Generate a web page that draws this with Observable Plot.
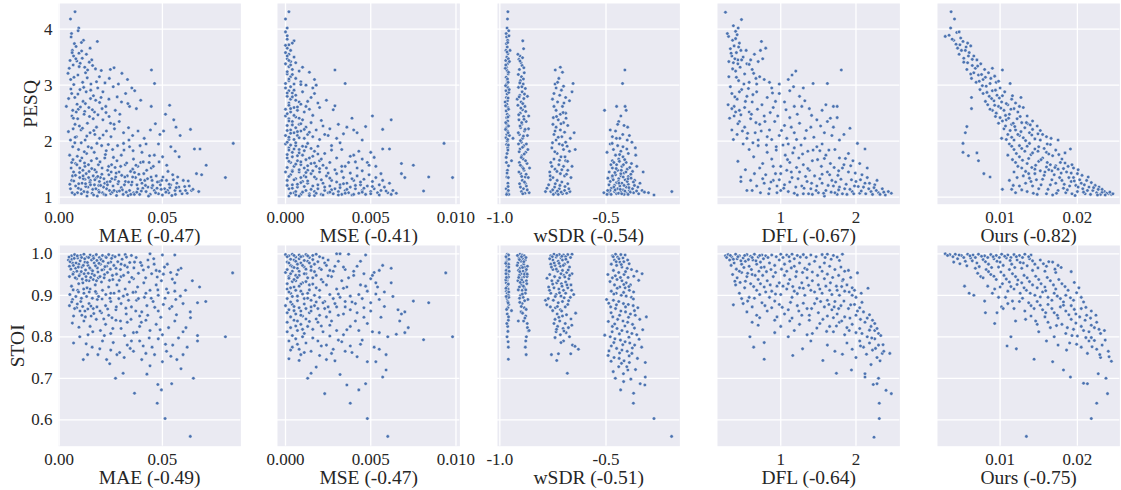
<!DOCTYPE html>
<html><head><meta charset="utf-8">
<script src="https://cdn.jsdelivr.net/npm/d3@7"></script>
<script src="https://cdn.jsdelivr.net/npm/@observablehq/plot@0.6"></script>
<style>
body{margin:0;background:#fff;}
#chart{position:relative;width:1121px;height:490px;overflow:hidden;background:#fff;}
</style></head><body><div id="chart"></div>
<script>
// ---------- data: [metric value, quality score] per utterance ----------
const maePesq = [[.0077,4.31],[.0055,4.18],[.0095,4.02],[.0092,3.97],[.0060,3.92],[.0058,3.86],[.0118,3.80],[.0185,3.78],[.0074,3.74],[.0108,3.76],[.0082,3.69],[.0064,3.62],[.0150,3.66],[.0096,3.57],[.0132,3.55],[.0070,3.52],[.0112,3.48],[.0158,3.45],[.0053,3.44],
[.0049,3.30],[.0068,3.36],[.0086,3.43],[.0102,3.39],[.0124,3.32],[.0146,3.41],[.0162,3.35],[.0176,3.29],[.0204,3.26],[.0248,3.28],[.0266,3.31],[.0304,3.21],[.0331,3.10],[.0447,3.27],[.0056,3.10],[.0091,3.18],[.0114,3.05],[.0136,3.13],[.0154,3.02],[.0181,3.06],[.0222,3.04],[.0287,3.02],[.0352,2.95],[.0366,2.90],[.0462,3.03],[.0071,3.01],[.0128,3.22],[.0195,3.15],[.0243,3.12],
[.0035,2.62],[.0061,2.85],[.0076,2.78],[.0087,2.66],[.0101,2.92],[.0116,2.71],[.0131,2.88],[.0144,2.60],[.0166,2.81],[.0187,2.95],[.0196,2.69],[.0212,2.88],[.0226,2.62],[.0241,2.75],[.0262,2.97],[.0281,2.79],[.0302,2.70],[.0322,2.85],[.0341,2.62],[.0374,2.58],[.0395,2.73],[.0446,2.62],[.0535,2.64],[.0272,2.55],[.0171,2.52],[.0066,2.55],[.0093,2.57],[.0124,2.53],[.0152,2.76],[.0208,2.58],[.0333,2.67],[.0046,2.76],
[.0045,2.17],[.0062,2.45],[.0077,2.30],[.0090,2.40],[.0106,2.20],[.0121,2.48],[.0137,2.32],[.0150,2.15],[.0165,2.40],[.0181,2.25],[.0196,2.05],[.0212,2.38],[.0229,2.18],[.0251,2.08],[.0266,2.30],[.0291,2.35],[.0312,2.15],[.0336,2.24],[.0356,2.10],[.0382,2.18],[.0412,2.05],[.0442,2.20],[.0466,2.31],[.0515,2.48],[.0555,2.38],[.0506,2.18],[.0566,2.25],[.0636,2.21],[.0586,2.10],[.0055,2.02],[.0084,2.08],[.0126,2.02],[.0098,2.27],[.0173,2.12],[.0242,2.44],[.0488,2.12],[.0068,2.22],
[.0051,1.75],[.0066,1.90],[.0080,1.60],[.0094,1.85],[.0110,1.70],[.0125,1.55],[.0141,1.90],[.0156,1.65],[.0170,1.80],[.0190,1.58],[.0206,1.92],[.0221,1.70],[.0240,1.55],[.0259,1.85],[.0280,1.65],[.0301,1.75],[.0320,1.58],[.0341,1.90],[.0360,1.68],[.0381,1.55],[.0401,1.80],[.0421,1.95],[.0436,1.62],[.0461,1.75],[.0481,1.95],[.0501,1.72],[.0521,1.57],[.0541,1.90],[.0581,1.72],[.0655,1.86],[.0682,1.86],[.0843,1.96],[.0712,1.57],[.0446,1.52],[.0356,1.50],[.0061,1.62],[.0100,1.52],[.0133,1.78],[.0182,1.69],[.0228,1.83],[.0271,1.53],[.0312,1.96],[.0395,1.62],[.0562,1.82],[.0076,1.97],
[.0055,1.15],[.0061,1.30],[.0070,1.45],[.0080,1.20],[.0089,1.08],[.0100,1.35],[.0111,1.25],[.0120,1.10],[.0131,1.42],[.0140,1.18],[.0151,1.30],[.0160,1.07],[.0171,1.22],[.0180,1.45],[.0191,1.12],[.0200,1.35],[.0210,1.08],[.0221,1.25],[.0230,1.15],[.0241,1.40],[.0250,1.06],[.0261,1.20],[.0270,1.32],[.0281,1.10],[.0290,1.45],[.0301,1.17],[.0310,1.05],[.0321,1.28],[.0330,1.38],[.0341,1.12],[.0350,1.22],[.0361,1.08],[.0370,1.35],[.0381,1.15],[.0390,1.05],[.0401,1.25],[.0410,1.42],[.0421,1.10],[.0430,1.18],[.0441,1.05],[.0450,1.30],[.0461,1.12],[.0470,1.38],[.0481,1.06],[.0490,1.22],[.0500,1.04],[.0511,1.15],[.0520,1.30],[.0531,1.08],[.0540,1.22],[.0550,1.40],[.0561,1.12],[.0570,1.25],[.0580,1.18],[.0601,1.30],[.0620,1.07],[.0630,1.20],[.0641,1.12],[.0665,1.42],[.0676,1.10],[.0805,1.35],[.0690,1.40],[.0075,1.05],[.0115,1.48],[.0165,1.38],[.0195,1.28],[.0235,1.48],[.0135,1.02],[.0065,1.38],[.0095,1.24],[.0145,1.46],[.0185,1.02],[.0215,1.18],[.0255,1.33],[.0285,1.24],[.0325,1.09],[.0365,1.44],[.0405,1.16],[.0445,1.36],[.0485,1.28],[.0525,1.12],[.0595,1.06],[.0105,1.14],[.0125,1.32],
[.0043,3.21],[.0057,2.93],[.0063,3.58],[.0069,2.41],[.0072,3.14],[.0078,2.07],[.0081,3.47],[.0083,2.52],[.0088,1.73],[.0091,2.84],[.0097,3.33],[.0099,1.44],[.0103,2.61],[.0107,1.97],[.0109,3.61],[.0113,2.23],[.0117,1.33],[.0119,2.96],[.0122,1.81],[.0127,2.67],[.0129,1.19],[.0134,2.09],[.0138,3.27],[.0142,1.58],[.0147,2.44],[.0149,1.26],[.0153,2.91],[.0157,1.88],[.0161,2.56],[.0163,1.14],[.0168,2.19],[.0172,1.49],[.0177,2.73],[.0179,1.34],[.0183,1.96],[.0188,2.47],[.0192,1.21],[.0198,1.63],[.0203,2.78],[.0207,1.41],[.0213,2.11],[.0218,1.05],[.0224,1.76],[.0227,2.51],[.0233,1.27],[.0238,1.94],[.0244,1.12],[.0249,2.32],[.0254,1.58],[.0258,1.09],[.0263,1.71],[.0268,2.22],[.0274,1.36],[.0278,1.03],[.0283,1.92],[.0288,1.28],[.0294,2.48],[.0298,1.55],[.0306,1.13],[.0314,1.84],[.0318,1.36],[.0327,1.61],[.0334,1.03],[.0338,2.02],[.0346,1.46],[.0353,1.27],[.0358,1.83],[.0364,1.05],[.0372,1.57],[.0377,1.22],[.0386,1.41],[.0392,1.92],[.0398,1.11],[.0407,1.63],[.0415,1.30],[.0424,1.48],[.0433,1.02],[.0438,1.74],[.0449,1.17],[.0456,1.55],[.0467,1.08],[.0476,1.27],[.0484,1.63],[.0494,1.14],[.0503,1.36],[.0517,1.09],[.0527,1.46],[.0536,1.17],[.0546,1.03],[.0553,1.31],[.0563,1.05],[.0574,1.36],[.0586,1.11],[.0608,1.19],[.0625,1.29],[.0648,1.14],[.0052,1.23],[.0058,1.52],[.0063,1.08],[.0067,1.67],[.0071,1.29],[.0079,1.39],[.0086,1.58],[.0093,1.16],[.0102,1.65],[.0108,1.06],[.0116,1.38],[.0123,1.61],[.0128,1.24],[.0137,1.09],[.0143,1.35],[.0152,1.22],[.0158,1.51],[.0167,1.04],[.0173,1.31],[.0178,1.15],[.0187,1.37],[.0194,1.09],[.0201,1.21],[.0208,1.52],[.0217,1.33],[.0226,1.04],[.0234,1.22],[.0247,1.28],[.0252,1.45],[.0266,1.12],[.0276,1.43],[.0292,1.11],[.0303,1.39],[.0316,1.22],[.0336,1.27],[.0347,1.05],[.0356,1.36],[.0376,1.09],[.0394,1.31],[.0418,1.21],[.0428,1.33],[.0453,1.21],[.0474,1.16],[.0497,1.30],[.0533,1.23],[.0567,1.17],[.0612,1.12]];

const msePesq = [[.0002,4.31],[.0000,4.18],[.0001,4.02],[.0000,3.95],[.0001,3.88],[.0005,3.79],[.0001,3.82],[.0002,3.72],[.0004,3.75],[.0001,3.66],[.0003,3.62],[.0000,3.58],[.0002,3.55],[.0005,3.50],[.0001,3.47],[.0003,3.42],[.0000,3.38],[.0006,3.40],[.0002,3.33],[.0004,3.28],[.0008,3.25],[.0010,3.32],[.0014,3.23],[.0029,3.27],[.0035,3.03],[.0017,3.10],[.0001,3.20],[.0003,3.15],[.0006,3.12],[.0009,3.06],[.0002,3.08],[.0012,3.00],[.0005,3.02],[.0018,3.00],[.0016,2.95],
[.0000,2.95],[.0002,2.90],[.0004,2.86],[.0001,2.80],[.0003,2.75],[.0006,2.82],[.0008,2.70],[.0010,2.88],[.0012,2.62],[.0015,2.78],[.0019,2.68],[.0024,2.73],[.0029,2.63],[.0002,2.68],[.0005,2.60],[.0000,2.57],[.0007,2.55],[.0011,2.52],[.0014,2.57],[.0020,2.60],[.0003,2.52],[.0009,2.66],[.0017,2.85],
[.0051,2.45],[.0062,2.38],[.0047,2.26],[.0057,2.21],[.0000,2.45],[.0002,2.40],[.0004,2.35],[.0006,2.43],[.0008,2.30],[.0010,2.38],[.0012,2.25],[.0015,2.33],[.0018,2.20],[.0022,2.27],[.0026,2.22],[.0031,2.30],[.0036,2.25],[.0040,2.20],[.0001,2.28],[.0003,2.20],[.0005,2.15],[.0007,2.10],[.0009,2.18],[.0011,2.05],[.0013,2.12],[.0016,2.08],[.0020,2.03],[.0025,2.10],[.0030,2.05],[.0042,2.15],[.0045,2.02],[.0000,2.10],[.0002,2.03],
[.0093,1.96],[.0057,1.86],[.0061,1.86],[.0075,1.57],[.0000,1.95],[.0002,1.88],[.0004,1.80],[.0006,1.92],[.0008,1.85],[.0010,1.75],[.0012,1.90],[.0014,1.70],[.0017,1.82],[.0020,1.65],[.0023,1.78],[.0027,1.92],[.0030,1.70],[.0033,1.85],[.0037,1.62],[.0040,1.75],[.0045,1.68],[.0050,1.80],[.0053,1.55],[.0001,1.70],[.0003,1.62],[.0005,1.55],[.0007,1.65],[.0009,1.58],[.0011,1.52],[.0015,1.60],[.0018,1.55],[.0022,1.57],[.0026,1.62],[.0035,1.55],[.0042,1.52],[.0048,1.62],[.0068,1.60],
[.0098,1.35],[.0084,1.36],[.0081,1.11],[.0070,1.35],[.0068,1.42],[.0065,1.07],[.0000,1.45],[.0001,1.30],[.0002,1.15],[.0003,1.40],[.0004,1.22],[.0005,1.08],[.0006,1.33],[.0007,1.18],[.0008,1.45],[.0009,1.05],[.0010,1.28],[.0011,1.38],[.0012,1.12],[.0013,1.25],[.0014,1.06],[.0015,1.42],[.0016,1.20],[.0017,1.10],[.0018,1.33],[.0019,1.15],[.0020,1.45],[.0021,1.05],[.0022,1.25],[.0023,1.12],[.0024,1.38],[.0025,1.08],[.0026,1.20],[.0027,1.30],[.0028,1.06],[.0029,1.15],[.0030,1.42],[.0031,1.10],[.0032,1.22],[.0033,1.05],[.0034,1.35],[.0035,1.12],[.0036,1.25],[.0037,1.08],[.0038,1.18],[.0039,1.04],[.0040,1.30],[.0041,1.15],[.0042,1.38],[.0043,1.07],[.0044,1.22],[.0045,1.12],[.0046,1.32],[.0047,1.05],[.0048,1.20],[.0049,1.40],[.0050,1.10],[.0051,1.28],[.0052,1.15],[.0053,1.35],[.0054,1.08],[.0055,1.22],[.0056,1.12],[.0057,1.30],[.0058,1.18],[.0060,1.08],[.0061,1.25],[.0063,1.12],[.0002,1.02],[.0006,1.10],[.0009,1.26],[.0013,1.48],[.0017,1.03],[.0004,1.48],[.0008,1.02],[.0012,1.36],
[.0000,3.71],[.0001,3.52],[.0002,3.44],[.0003,3.36],[.0001,3.24],[.0004,3.19],[.0002,3.11],[.0000,3.03],[.0003,2.97],[.0005,2.91],[.0001,2.86],[.0004,2.79],[.0006,2.73],[.0002,2.64],[.0007,2.61],[.0003,2.58],[.0001,2.49],[.0005,2.46],[.0008,2.41],[.0002,2.36],[.0004,2.29],[.0006,2.24],[.0009,2.31],[.0001,2.19],[.0003,2.14],[.0007,2.17],[.0011,2.21],[.0002,2.07],[.0005,2.03],[.0008,2.06],[.0001,1.98],[.0003,1.93],[.0006,1.97],[.0010,1.91],[.0013,1.96],[.0002,1.84],[.0005,1.86],[.0008,1.79],[.0011,1.83],[.0015,1.87],[.0001,1.76],[.0004,1.72],[.0007,1.74],[.0012,1.67],[.0016,1.73],[.0019,1.77],[.0002,1.64],[.0006,1.59],[.0009,1.63],[.0013,1.56],[.0017,1.61],[.0021,1.68],[.0024,1.52],[.0001,1.53],[.0004,1.46],[.0008,1.49],[.0012,1.44],[.0016,1.47],[.0020,1.51],[.0025,1.43],[.0029,1.49],[.0033,1.46],[.0002,1.37],[.0005,1.31],[.0009,1.35],[.0013,1.29],[.0017,1.36],[.0021,1.31],[.0026,1.34],[.0030,1.27],[.0034,1.24],[.0039,1.33],[.0044,1.27],[.0001,1.21],[.0004,1.16],[.0007,1.23],[.0011,1.19],[.0015,1.14],[.0019,1.22],[.0023,1.18],[.0027,1.13],[.0032,1.17],[.0036,1.14],[.0041,1.21],[.0046,1.16],[.0051,1.19],[.0003,1.07],[.0006,1.04],[.0010,1.09],[.0014,1.03],[.0018,1.07],[.0022,1.04],[.0026,1.09],[.0031,1.04],[.0035,1.07],[.0040,1.05],[.0045,1.09],[.0050,1.06],[.0055,1.04],[.0059,1.11],[.0062,1.05],[.0009,3.01],[.0013,2.71],[.0016,2.46],[.0021,2.37],[.0014,2.16],[.0019,1.91],[.0023,2.12],[.0027,1.84],[.0032,1.97],[.0038,1.73],[.0043,1.82],[.0049,1.57],[.0039,2.41],[.0028,2.56],[.0034,2.13],[.0041,1.63],[.0052,1.71],[.0056,1.42],[.0045,1.47],[.0038,1.43],[.0033,1.55]];

const wsdrPesq = [[-0.962,4.31],[-0.964,4.18],[-0.966,4.02],[-0.970,3.92],[-0.968,3.86],[-0.963,3.80],[-0.969,3.74],[-0.965,3.68],[-0.971,3.62],[-0.962,3.56],[-0.967,3.50],[-0.972,3.44],[-0.964,3.38],[-0.969,3.32],[-0.966,3.26],[-0.961,3.20],[-0.970,3.14],[-0.965,3.08],[-0.968,3.02],[-0.963,2.96],[-0.971,2.90],[-0.966,2.84],[-0.969,2.78],[-0.964,2.72],[-0.967,2.66],[-0.962,2.60],[-0.970,2.54],[-0.965,2.48],[-0.968,2.42],[-0.963,2.36],[-0.966,2.30],[-0.969,2.24],[-0.964,2.18],[-0.967,2.12],[-0.971,2.06],[-0.965,2.00],[-0.968,1.94],[-0.963,1.88],[-0.966,1.78],[-0.969,1.62],[-0.964,1.48],[-0.967,1.36],[-0.962,1.25],[-0.970,1.15],[-0.965,1.08],[-0.960,1.12],[-0.957,3.88],[-0.952,3.62],[-0.958,2.45],[-0.955,2.10],[-0.945,1.65],[-0.975,2.70],[-0.974,3.30],[-0.938,2.05],[-0.960,1.35],[-0.958,1.05],
[-0.958,3.97],[-0.963,3.76],[-0.966,3.59],[-0.960,3.47],[-0.972,3.36],[-0.959,3.23],[-0.964,3.11],[-0.961,3.05],[-0.973,2.99],[-0.958,2.87],[-0.961,2.77],[-0.973,2.63],[-0.959,2.57],[-0.962,2.43],[-0.972,2.33],[-0.959,2.27],[-0.961,2.15],[-0.963,2.03],[-0.960,1.93],[-0.962,1.84],[-0.970,1.71],[-0.959,1.56],[-0.966,1.43],[-0.961,1.19],[-0.968,1.05],[-0.956,2.92],[-0.955,3.42],[-0.973,2.21],
[-0.892,3.79],[-0.888,3.65],[-0.905,3.52],[-0.910,3.46],[-0.900,3.40],[-0.895,3.35],[-0.908,3.28],[-0.885,3.22],[-0.898,3.15],[-0.903,3.08],[-0.890,3.02],[-0.912,2.96],[-0.880,2.94],[-0.895,2.88],[-0.906,2.82],[-0.887,2.76],[-0.900,2.70],[-0.915,2.64],[-0.882,2.62],[-0.893,2.56],[-0.904,2.50],[-0.888,2.44],[-0.910,2.38],[-0.876,2.35],[-0.897,2.30],[-0.902,2.24],[-0.884,2.18],[-0.908,2.12],[-0.870,2.10],[-0.893,2.05],[-0.899,1.98],[-0.886,1.92],[-0.905,1.86],[-0.878,1.80],[-0.896,1.74],[-0.890,1.68],[-0.908,1.62],[-0.872,1.60],[-0.895,1.54],[-0.886,1.48],[-0.902,1.42],[-0.880,1.36],[-0.894,1.30],[-0.907,1.24],[-0.875,1.20],[-0.889,1.15],[-0.898,1.10],[-0.882,1.07],[-0.862,1.08],[-0.918,2.75],[-0.865,2.22],[-0.860,1.52],[-0.912,1.95],[-0.870,2.80],[-0.880,1.25],
[-0.915,3.55],[-0.893,3.49],[-0.905,3.43],[-0.887,3.31],[-0.913,3.19],[-0.889,3.11],[-0.906,3.04],[-0.896,2.97],[-0.884,2.84],[-0.909,2.79],[-0.892,2.67],[-0.901,2.59],[-0.878,2.53],[-0.911,2.47],[-0.886,2.39],[-0.897,2.33],[-0.905,2.27],[-0.881,2.21],[-0.913,2.15],[-0.889,2.09],[-0.903,2.01],[-0.875,1.95],[-0.893,1.89],[-0.909,1.81],[-0.885,1.77],[-0.899,1.71],[-0.879,1.65],[-0.903,1.57],[-0.889,1.51],[-0.910,1.45],[-0.876,1.41],[-0.897,1.37],[-0.884,1.27],[-0.903,1.18],[-0.871,1.13],[-0.892,1.06],[-0.866,1.35],[-0.868,1.85],[-0.864,2.45],
[-0.715,3.32],[-0.739,3.27],[-0.705,3.23],[-0.722,3.12],[-0.740,3.02],[-0.655,3.03],[-0.735,2.95],[-0.700,2.98],[-0.745,2.85],[-0.718,2.82],[-0.690,2.78],[-0.660,2.88],[-0.672,2.72],[-0.728,2.70],[-0.745,2.62],[-0.705,2.62],[-0.735,2.55],[-0.715,2.48],[-0.690,2.50],[-0.748,2.42],[-0.725,2.38],[-0.700,2.33],[-0.680,2.28],[-0.735,2.25],[-0.715,2.20],[-0.695,2.16],[-0.745,2.12],[-0.708,2.08],[-0.650,2.15],[-0.735,2.02],[-0.690,1.98],[-0.720,1.95],[-0.755,1.88],[-0.700,1.85],[-0.672,1.82],[-0.730,1.78],[-0.712,1.72],[-0.745,1.68],[-0.690,1.65],[-0.760,1.62],[-0.722,1.58],[-0.700,1.55],[-0.740,1.50],[-0.680,1.48],[-0.765,1.45],[-0.715,1.42],[-0.695,1.38],[-0.750,1.35],[-0.730,1.30],[-0.708,1.27],[-0.680,1.24],[-0.770,1.22],[-0.742,1.18],[-0.720,1.15],[-0.695,1.12],[-0.760,1.10],[-0.735,1.08],[-0.705,1.06],[-0.785,1.10],[-0.670,1.10],[-0.660,1.55],[-0.645,1.85],[-0.750,2.30],[-0.725,1.05],[-0.665,1.35],
[-0.728,3.05],[-0.710,2.91],[-0.752,2.75],[-0.698,2.68],[-0.733,2.44],[-0.712,2.31],[-0.688,2.41],[-0.740,2.18],[-0.725,2.07],[-0.752,1.97],[-0.705,1.93],[-0.683,1.91],[-0.741,1.81],[-0.719,1.66],[-0.693,1.72],[-0.755,1.55],[-0.731,1.46],[-0.708,1.49],[-0.686,1.41],[-0.762,1.31],[-0.739,1.24],[-0.717,1.21],[-0.693,1.19],[-0.675,1.15],[-0.778,1.16],[-0.751,1.13],[-0.729,1.11],[-0.711,1.09],[-0.685,1.07],[-0.748,1.05],[-0.763,1.38],[-0.681,1.64],[-0.668,2.05],[-0.702,2.51],
[-0.411,3.27],[-0.422,3.03],[-0.507,2.55],[-0.450,2.62],[-0.410,2.62],[-0.430,2.45],[-0.405,2.55],[-0.440,2.35],[-0.415,2.28],[-0.398,2.25],[-0.480,2.20],[-0.455,2.18],[-0.470,2.08],[-0.435,2.05],[-0.400,2.02],[-0.378,1.98],[-0.480,1.95],[-0.445,1.92],[-0.420,1.90],[-0.362,1.88],[-0.465,1.85],[-0.430,1.82],[-0.495,1.80],[-0.395,1.78],[-0.455,1.75],[-0.420,1.72],[-0.360,1.75],[-0.440,1.68],[-0.470,1.65],[-0.405,1.62],[-0.380,1.60],[-0.450,1.58],[-0.425,1.55],[-0.470,1.52],[-0.400,1.50],[-0.445,1.48],[-0.375,1.46],[-0.485,1.45],[-0.415,1.43],[-0.455,1.40],[-0.430,1.38],[-0.395,1.37],[-0.470,1.35],[-0.440,1.33],[-0.410,1.31],[-0.365,1.30],[-0.480,1.28],[-0.450,1.26],[-0.425,1.25],[-0.395,1.23],[-0.460,1.21],[-0.435,1.20],[-0.405,1.18],[-0.350,1.18],[-0.475,1.16],[-0.445,1.15],[-0.420,1.13],[-0.390,1.12],[-0.460,1.10],[-0.430,1.09],[-0.405,1.08],[-0.370,1.08],[-0.485,1.07],[-0.450,1.06],[-0.415,1.05],[-0.330,1.12],[-0.300,1.08],[-0.274,1.04],[-0.190,1.10],[-0.510,1.08],[-0.495,1.05],[-0.340,1.25],[-0.325,1.45],[-0.355,1.55],[-0.445,2.30],[-0.390,2.10],[-0.470,1.38],[-0.430,1.42],[-0.400,1.28],[-0.375,1.15],
[-0.463,1.62],[-0.437,1.64],[-0.412,1.67],[-0.388,1.53],[-0.477,1.58],[-0.452,1.51],[-0.428,1.48],[-0.406,1.45],[-0.383,1.41],[-0.491,1.34],[-0.466,1.31],[-0.441,1.28],[-0.419,1.36],[-0.396,1.33],[-0.371,1.27],[-0.486,1.22],[-0.463,1.18],[-0.439,1.25],[-0.415,1.21],[-0.392,1.17],[-0.366,1.21],[-0.481,1.12],[-0.457,1.13],[-0.433,1.14],[-0.411,1.11],[-0.386,1.09],[-0.356,1.11],[-0.476,1.05],[-0.441,1.07],[-0.426,1.06],[-0.396,1.05],[-0.346,1.06],[-0.319,1.09],[-0.492,1.12],[-0.458,1.44],[-0.418,1.58],[-0.382,1.34],[-0.471,1.96],[-0.436,1.76],[-0.402,1.86],[-0.451,2.05],[-0.421,2.12]];

const dflPesq = [[0.265,4.30],[0.478,4.17],[0.434,4.02],[0.306,3.87],[0.743,3.78],[0.80,3.66],[0.40,3.96],[0.42,3.90],[0.36,3.80],[0.45,3.75],[0.38,3.70],[0.33,3.65],[0.47,3.62],[0.41,3.58],[0.35,3.52],[0.50,3.50],[0.43,3.45],[0.37,3.40],[0.60,3.45],[0.65,3.55],[0.70,3.42],[0.55,3.38],[0.46,3.32],[0.31,3.15],[0.40,3.25],[0.52,3.20],[0.62,3.28],[0.72,3.15],[0.78,3.10],[0.85,3.05],[0.68,3.02],[0.58,3.05],[0.44,3.08],[1.805,3.27],[1.62,3.03],[1.43,3.03],[1.20,3.25],[1.15,3.18],[1.10,3.10],[0.98,3.02],
[0.35,2.85],[0.42,2.75],[0.48,2.92],[0.38,2.62],[0.30,2.65],[0.55,2.80],[0.62,2.70],[0.45,2.55],[0.52,2.60],[0.68,2.88],[0.75,2.65],[0.82,2.78],[0.90,2.60],[0.98,2.85],[1.05,2.70],[1.12,2.90],[1.18,2.62],[1.25,2.80],[1.32,2.72],[1.38,2.58],[1.30,2.95],[1.60,2.65],[1.70,2.62],[1.75,2.62],[1.55,2.55],[0.88,2.95],[0.58,2.52],[0.40,2.52],
[0.38,2.45],[0.45,2.35],[0.52,2.25],[0.60,2.40],[0.66,2.15],[0.72,2.30],[0.78,2.45],[0.85,2.20],[0.92,2.35],[0.98,2.10],[1.05,2.28],[1.12,2.42],[1.18,2.15],[1.25,2.32],[1.32,2.05],[1.40,2.25],[1.48,2.38],[1.62,2.35],[1.70,2.25],[1.75,2.42],[1.68,2.10],[1.92,2.23],[1.58,2.15],[0.55,2.05],[0.70,2.02],[0.42,2.12],[0.35,2.20],[0.96,2.45],[1.08,2.05],[1.22,2.48],[1.78,2.02],[0.82,2.08],
[0.43,1.64],[0.50,1.95],[0.58,1.85],[0.64,1.72],[0.70,1.92],[0.76,1.60],[0.82,1.80],[0.88,1.68],[0.94,1.90],[1.00,1.55],[1.06,1.75],[1.12,1.62],[1.18,1.88],[1.24,1.70],[1.30,1.58],[1.36,1.82],[1.42,1.65],[1.48,1.90],[1.54,1.55],[1.60,1.75],[1.66,1.60],[1.72,1.85],[1.78,1.70],[1.84,1.58],[1.90,1.78],[1.96,1.65],[2.02,1.96],[2.12,1.86],[1.55,1.95],[0.72,1.52],[0.90,1.55],[1.10,1.95],[1.82,1.52],[2.05,1.60],[2.15,1.52],
[0.47,1.36],[0.47,1.28],[0.60,1.30],[0.73,1.08],[0.53,1.49],[0.68,1.20],[0.80,1.40],[0.85,1.15],[0.90,1.30],[0.95,1.08],[1.00,1.42],[1.05,1.22],[1.10,1.10],[1.15,1.35],[1.20,1.18],[1.25,1.45],[1.30,1.06],[1.35,1.28],[1.40,1.15],[1.45,1.38],[1.50,1.08],[1.55,1.25],[1.60,1.12],[1.65,1.40],[1.70,1.20],[1.75,1.05],[1.80,1.32],[1.85,1.15],[1.90,1.45],[1.95,1.10],[2.00,1.28],[2.05,1.07],[2.10,1.18],[2.15,1.35],[2.20,1.10],[2.25,1.22],[2.30,1.08],[2.35,1.15],[2.39,1.04],[2.47,1.07],[2.43,1.10],[2.28,1.30],[2.18,1.25],[1.00,1.12],[1.22,1.04],[1.48,1.20],[1.68,1.30],[1.72,1.08],[1.88,1.05],[1.62,1.45],[1.38,1.48],[1.08,1.48],[0.78,1.25],[0.95,1.20],[1.42,1.05],[1.58,1.02],[2.08,1.40],[1.98,1.20],[1.78,1.18],[1.28,1.20],[0.62,1.12],
[0.34,3.57],[0.39,3.47],[0.43,3.38],[0.36,3.29],[0.48,3.45],[0.41,3.14],[0.51,3.02],[0.33,2.97],[0.45,2.88],[0.39,2.79],[0.53,2.71],[0.35,2.58],[0.47,2.47],[0.32,2.41],[0.43,2.31],[0.49,2.18],[0.37,2.03],[0.58,3.37],[0.64,3.21],[0.57,2.94],[0.63,2.83],[0.69,2.57],[0.61,2.48],[0.67,2.33],[0.56,2.14],[0.63,1.97],[0.74,2.18],[0.79,2.35],[0.86,2.51],[0.93,2.71],[0.81,1.93],[0.88,2.03],[0.94,1.84],[1.01,2.19],[1.07,2.56],[1.14,2.25],[1.03,1.93],[1.09,1.67],[1.16,1.79],[1.21,2.03],[1.27,1.93],[1.34,2.19],[1.21,1.53],[1.29,1.77],[1.36,1.51],[1.43,1.84],[1.49,1.67],[1.44,2.07],[1.52,1.83],[1.58,1.69],[1.64,1.84],[1.71,1.53],[1.77,1.47],[1.86,1.69],[1.93,1.56],[1.99,1.43],[2.06,1.31],[0.98,1.31],[1.04,1.16],[1.12,1.27],[1.18,1.07],[1.23,1.33],[1.31,1.16],[1.37,1.06],[1.41,1.25],[1.47,1.12],[1.52,1.33],[1.57,1.07],[1.63,1.21],[1.67,1.09],[1.73,1.27],[1.77,1.13],[1.82,1.06],[1.87,1.23],[1.92,1.14],[1.97,1.06],[2.03,1.19],[2.07,1.11],[2.13,1.06],[2.17,1.15],[2.22,1.05],[2.27,1.12],[2.32,1.05],[2.37,1.09],[2.24,1.17],[2.12,1.25],[0.87,1.27],[0.93,1.42],[0.76,1.33],[0.84,1.06],[0.55,1.12],[0.65,1.42],[1.14,1.45],[1.33,1.37],[1.55,1.41],[1.76,1.39],[1.94,1.31],[0.29,3.92],[0.37,4.06],[0.40,3.83],[0.44,3.68],[0.31,3.42],[0.54,3.62],[0.73,3.62],[0.76,3.47],[0.67,3.12],[0.89,2.86],[1.17,2.97],[1.28,2.62],[1.41,2.46],[1.53,2.27],[1.66,2.41],[1.84,2.12]];

const oursPesq = [[.00366,4.31],[.0041,4.18],[.0036,4.02],[.0029,3.87],[.0034,3.89],[.0044,3.94],[.0047,3.95],[.0040,3.80],[.0048,3.72],[.0052,3.78],[.0058,3.75],[.0045,3.66],[.0050,3.62],[.0056,3.68],[.0062,3.70],[.0060,3.58],[.0066,3.52],[.0053,3.48],[.0070,3.45],[.0058,3.40],[.0064,3.35],[.0075,3.38],[.0068,3.30],[.0080,3.28],[.0062,3.20],[.0072,3.18],[.0085,3.22],[.0090,3.30],[.0103,3.27],[.0078,3.10],[.0088,3.12],[.0069,3.05],[.0095,3.05],[.0113,3.03],[.0082,2.98],
[.0074,2.92],[.0090,2.90],[.0100,2.95],[.0078,2.85],[.0086,2.80],[.0096,2.82],[.0106,2.88],[.0127,2.78],[.0063,2.78],[.0092,2.72],[.0102,2.70],[.0115,2.75],[.0084,2.65],[.0098,2.62],[.0110,2.65],[.0120,2.68],[.0063,2.58],[.0090,2.55],[.0105,2.55],[.0118,2.58],[.0130,2.60],[.0095,2.50],[.0112,2.48],
[.0100,2.42],[.0108,2.38],[.0122,2.40],[.0135,2.45],[.0098,2.32],[.0115,2.30],[.0128,2.33],[.0142,2.36],[.0057,2.26],[.0055,2.15],[.0105,2.22],[.0120,2.20],[.0132,2.24],[.0148,2.27],[.0110,2.12],[.0125,2.10],[.0138,2.15],[.0155,2.12],[.0102,2.05],[.0118,2.02],[.0130,2.06],[.0145,2.04],[.0160,2.08],[.0175,2.02],
[.0052,1.96],[.0052,1.80],[.0059,1.74],[.0070,1.79],[.0072,1.65],[.0191,1.86],[.0112,1.95],[.0125,1.92],[.0138,1.96],[.0150,1.90],[.0165,1.94],[.0118,1.85],[.0132,1.82],[.0145,1.86],[.0160,1.80],[.0172,1.84],[.0110,1.75],[.0125,1.72],[.0140,1.76],[.0155,1.70],[.0168,1.74],[.0180,1.68],[.0120,1.62],[.0135,1.60],[.0150,1.64],[.0165,1.58],[.0178,1.62],[.0188,1.55],[.0128,1.52],[.0145,1.50],[.0160,1.54],[.0175,1.50],[.0195,1.52],
[.0079,1.42],[.0087,1.36],[.0103,1.14],[.0244,1.05],[.0112,1.30],[.0118,1.45],[.0125,1.20],[.0130,1.38],[.0135,1.10],[.0140,1.28],[.0145,1.42],[.0150,1.15],[.0155,1.32],[.0160,1.06],[.0165,1.22],[.0170,1.40],[.0175,1.12],[.0180,1.30],[.0185,1.08],[.0190,1.20],[.0195,1.35],[.0200,1.10],[.0205,1.25],[.0210,1.06],[.0215,1.18],[.0220,1.12],[.0225,1.08],[.0230,1.05],[.0235,1.10],[.0212,1.30],[.0200,1.42],[.0186,1.45],[.0120,1.08],[.0148,1.05],[.0172,1.25],[.0158,1.45],[.0197,1.03],[.0228,1.18],[.0240,1.06],[.0142,1.20],[.0115,1.14],[.0168,1.04],[.0182,1.16],[.0207,1.15],[.0138,1.34],[.0192,1.28],
[.0038,3.82],[.0043,3.73],[.0049,3.84],[.0055,3.62],[.0047,3.55],[.0053,3.41],[.0059,3.52],[.0064,3.46],[.0057,3.28],[.0063,3.12],[.0071,3.34],[.0066,3.22],[.0076,3.19],[.0073,3.07],[.0081,3.14],[.0077,2.99],[.0087,3.03],[.0093,3.16],[.0083,2.87],[.0089,2.76],[.0094,2.91],[.0099,2.77],[.0103,2.81],[.0108,2.67],[.0081,2.71],[.0087,2.57],[.0093,2.64],[.0101,2.59],[.0107,2.46],[.0114,2.57],[.0123,2.52],[.0094,2.44],[.0103,2.36],[.0111,2.41],[.0117,2.32],[.0126,2.44],[.0136,2.31],[.0107,2.27],[.0113,2.19],[.0119,2.26],[.0127,2.17],[.0134,2.33],[.0142,2.21],[.0152,2.19],[.0108,2.03],[.0115,2.07],[.0123,2.12],[.0133,2.01],[.0141,2.11],[.0152,2.02],[.0166,2.05],[.0115,1.91],[.0121,1.78],[.0128,1.87],[.0135,1.91],[.0142,1.79],[.0149,1.82],[.0157,1.87],[.0163,1.77],[.0176,1.76],[.0184,1.79],[.0116,1.67],[.0129,1.66],[.0137,1.69],[.0146,1.57],[.0153,1.67],[.0161,1.62],[.0172,1.56],[.0184,1.61],[.0193,1.58],[.0201,1.49],[.0123,1.55],[.0133,1.46],[.0141,1.53],[.0152,1.47],[.0167,1.47],[.0182,1.51],[.0192,1.43],[.0206,1.39],[.0214,1.36],[.0218,1.26],[.0223,1.21],[.0227,1.14],[.0232,1.09],[.0238,1.07],[.0246,1.06],[.0117,1.21],[.0122,1.35],[.0128,1.13],[.0133,1.25],[.0137,1.42],[.0143,1.07],[.0147,1.31],[.0153,1.22],[.0157,1.39],[.0162,1.14],[.0167,1.31],[.0173,1.07],[.0177,1.35],[.0183,1.23],[.0187,1.13],[.0193,1.06],[.0198,1.21],[.0203,1.31],[.0208,1.09],[.0213,1.12],[.0217,1.05],[.0221,1.17],[.0226,1.04],[.0232,1.14],[.0236,1.04],[.0242,1.09],[.0163,1.49],[.0171,1.53],[.0179,1.43],[.0189,1.35],[.0196,1.29],[.0201,1.18],[.0209,1.22],[.0161,1.95],[.0149,2.13],[.0139,2.29],[.0125,2.62],[.0116,2.81],[.0098,3.07]];

const maeStoi = [[.0045,.985],[.0060,.995],[.0075,.998],[.0090,.990],[.0105,.996],[.0120,.999],[.0135,.992],[.0150,.997],[.0165,.994],[.0180,.998],[.0195,.991],[.0210,.996],[.0225,.993],[.0240,.998],[.0260,.995],[.0290,.997],[.0320,.998],[.0350,.996],[.0440,1.0],[.0500,.997],[.0560,.997],[.0050,.970],[.0065,.978],[.0080,.965],[.0095,.975],[.0110,.968],[.0125,.980],[.0140,.972],[.0155,.962],[.0170,.978],[.0185,.966],[.0200,.975],[.0215,.962],[.0230,.970],[.0250,.980],[.0275,.965],[.0300,.975],[.0330,.968],[.0365,.980],[.0400,.972],[.0430,.985],[.0460,.975],[.0470,.960],[.0510,.968],[.0540,.955],[.0590,.965],[.0570,.950],
[.0050,.945],[.0070,.955],[.0085,.940],[.0100,.950],[.0115,.930],[.0130,.945],[.0145,.935],[.0160,.952],[.0175,.925],[.0190,.942],[.0205,.932],[.0220,.950],[.0240,.920],[.0260,.938],[.0280,.925],[.0300,.945],[.0320,.915],[.0340,.932],[.0360,.940],[.0380,.920],[.0410,.930],[.0440,.912],[.0470,.925],[.0495,.935],[.0520,.915],[.0560,.910],[.0645,.935],[.0840,.954],[.0680,.920],[.0560,.930],[.0060,.922],[.0090,.912],[.0120,.905],[.0150,.915],[.0180,.905],[.0210,.912],[.0250,.905],[.0290,.910],[.0330,.902],[.0370,.908],[.0420,.905],[.0480,.900],[.0095,.928],[.0135,.918],[.0165,.938],
[.0050,.875],[.0065,.890],[.0085,.870],[.0105,.885],[.0125,.862],[.0145,.880],[.0165,.868],[.0185,.890],[.0205,.858],[.0225,.875],[.0250,.885],[.0275,.865],[.0300,.880],[.0325,.855],[.0350,.872],[.0375,.888],[.0400,.860],[.0425,.875],[.0455,.885],[.0480,.862],[.0505,.878],[.0535,.868],[.0565,.890],[.0600,.880],[.0710,.885],[.0670,.882],[.0635,.860],[.0636,.846],[.0070,.850],[.0110,.852],[.0155,.850],[.0240,.852],[.0390,.850],
[.0064,.833],[.0100,.800],[.0070,.785],[.0120,.838],[.0150,.825],[.0180,.842],[.0200,.815],[.0225,.830],[.0250,.808],[.0275,.840],[.0300,.820],[.0330,.835],[.0360,.810],[.0390,.825],[.0420,.840],[.0440,.815],[.0470,.830],[.0500,.805],[.0530,.822],[.0560,.838],[.0600,.812],[.0670,.803],[.0805,.800],[.0670,.790],[.0140,.805],[.0260,.820],
[.0117,.745],[.0138,.757],[.0188,.757],[.0230,.745],[.0315,.750],[.0280,.757],[.0273,.700],[.0310,.712],[.0600,.757],[.0590,.723],[.0650,.700],[.0545,.687],[.0160,.775],[.0210,.790],[.0250,.768],[.0330,.780],[.0360,.765],[.0390,.790],[.0420,.760],[.0450,.775],[.0480,.795],[.0500,.740],[.0520,.765],[.0550,.780],[.0570,.745],[.0440,.730],[.0400,.745],[.0350,.790],[.0620,.775],[.0245,.735],
[.0478,.685],[.0495,.672],[.0365,.664],[.0475,.640],[.0513,.603],[.0635,.560],[.0425,.710],
[.0048,.992],[.0053,.981],[.0057,.963],[.0062,.987],[.0067,.951],[.0069,.972],[.0073,.989],[.0078,.942],[.0082,.978],[.0086,.958],[.0088,.995],[.0093,.968],[.0097,.947],[.0102,.983],[.0107,.957],[.0109,.991],[.0112,.939],[.0117,.972],[.0121,.952],[.0124,.988],[.0128,.961],[.0132,.936],[.0137,.979],[.0141,.953],[.0143,.991],[.0148,.966],[.0153,.943],[.0157,.985],[.0162,.959],[.0167,.989],[.0171,.948],[.0176,.971],[.0181,.935],[.0183,.984],[.0188,.956],[.0193,.977],[.0198,.945],[.0203,.986],[.0207,.961],[.0213,.982],[.0218,.942],[.0222,.969],[.0228,.991],[.0234,.955],[.0238,.978],[.0244,.936],[.0248,.963],[.0254,.989],[.0258,.948],[.0265,.972],[.0271,.993],[.0278,.951],[.0284,.981],[.0291,.936],[.0297,.962],[.0305,.987],[.0312,.948],[.0318,.972],[.0326,.992],[.0334,.955],[.0342,.979],[.0352,.943],[.0362,.966],[.0373,.991],[.0384,.953],[.0394,.979],[.0408,.961],[.0419,.942],[.0432,.968],[.0448,.952],[.0458,.988],[.0475,.944],[.0486,.958],[.0505,.951],[.0524,.975],[.0548,.939],[.0577,.961],[.0052,.902],[.0061,.884],[.0068,.913],[.0075,.868],[.0081,.897],[.0088,.879],[.0094,.908],[.0101,.862],[.0108,.893],[.0114,.873],[.0119,.915],[.0127,.848],[.0133,.897],[.0139,.867],[.0146,.908],[.0154,.874],[.0161,.893],[.0168,.856],[.0176,.909],[.0183,.872],[.0191,.897],[.0198,.862],[.0208,.891],[.0216,.843],[.0226,.902],[.0235,.867],[.0246,.893],[.0256,.846],[.0266,.905],[.0277,.872],[.0289,.892],[.0297,.838],[.0311,.898],[.0323,.869],[.0336,.888],[.0348,.842],[.0358,.907],[.0371,.862],[.0384,.892],[.0398,.835],[.0413,.895],[.0429,.852],[.0446,.893],[.0463,.871],[.0478,.913],[.0492,.847],[.0513,.893],[.0528,.906],[.0546,.873],[.0568,.853],[.0587,.898],[.0612,.912],[.0096,.823],[.0131,.783],[.0163,.812],[.0197,.771],[.0219,.803],[.0262,.786],[.0293,.762],[.0317,.803],[.0344,.772],[.0376,.811],[.0407,.778],[.0436,.797],[.0462,.757],[.0489,.817],[.0515,.782],[.0541,.753],[.0578,.797],[.0614,.822]];

const mseStoi = [[.0000,.998],[.0002,.995],[.0004,.999],[.0006,.992],[.0008,.997],[.0010,.994],[.0012,.998],[.0014,.991],[.0016,.996],[.0018,.999],[.0020,.993],[.0030,1.0],[.0032,1.0],[.0037,.999],[.0047,.997],[.0022,.990],[.0025,.985],
[.0001,.980],[.0003,.972],[.0005,.985],[.0007,.965],[.0009,.978],[.0011,.968],[.0013,.982],[.0015,.960],[.0017,.975],[.0020,.965],[.0023,.978],[.0026,.960],[.0029,.970],[.0042,.970],[.0035,.962],[.0055,.960],[.0062,.965],[.0052,.955],[.0050,.940],[.0053,.930],[.0046,.952],[.0040,.948],
[.0000,.955],[.0002,.945],[.0004,.958],[.0006,.935],[.0008,.948],[.0010,.930],[.0012,.952],[.0014,.925],[.0016,.942],[.0018,.918],[.0021,.938],[.0024,.925],[.0027,.945],[.0030,.915],[.0033,.935],[.0036,.920],[.0062,.930],[.0054,.920],[.0058,.908],[.0048,.910],[.0044,.925],[.0094,.954],
[.0001,.915],[.0003,.905],[.0005,.920],[.0007,.898],[.0009,.910],[.0011,.892],[.0013,.905],[.0015,.888],[.0017,.900],[.0020,.895],[.0023,.885],[.0026,.902],[.0029,.880],[.0032,.895],[.0035,.885],[.0038,.898],[.0041,.880],[.0045,.892],[.0055,.890],[.0075,.886],[.0084,.882],
[.0000,.875],[.0002,.865],[.0004,.878],[.0006,.855],[.0008,.870],[.0010,.850],[.0012,.868],[.0014,.858],[.0017,.875],[.0020,.852],[.0023,.868],[.0026,.860],[.0030,.872],[.0034,.855],[.0038,.865],[.0042,.858],[.0046,.870],[.0050,.862],[.0056,.847],[.0070,.860],[.0066,.865],[.0068,.855],
[.0001,.835],[.0003,.822],[.0005,.840],[.0007,.815],[.0009,.830],[.0011,.808],[.0013,.825],[.0016,.818],[.0019,.835],[.0022,.812],[.0026,.828],[.0030,.815],[.0034,.805],[.0038,.825],[.0043,.815],[.0048,.832],[.0055,.810],[.0065,.806],[.0070,.810],[.0081,.793],[.0098,.800],[.0060,.800],[.0010,.800],
[.0002,.790],[.0004,.775],[.0006,.795],[.0008,.770],[.0012,.785],[.0015,.765],[.0019,.790],[.0024,.780],[.0028,.770],[.0033,.788],[.0038,.778],[.0044,.782],[.0052,.775],[.0055,.770],[.0059,.757],[.0059,.720],[.0057,.703],[.0053,.740],[.0048,.740],[.0047,.687],[.0043,.672],[.0036,.684],[.0038,.640],[.0048,.603],[.0060,.560],[.0023,.663],[.0032,.709],[.0015,.712],[.0013,.700],[.0008,.743],[.0002,.747],[.0020,.755],[.0027,.760],[.0035,.765],[.0042,.752],[.0024,.745],
[.0001,.993],[.0003,.987],[.0005,.996],[.0002,.978],[.0004,.969],[.0006,.982],[.0008,.988],[.0001,.962],[.0003,.952],[.0005,.967],[.0007,.975],[.0009,.993],[.0011,.984],[.0013,.995],[.0002,.941],[.0004,.933],[.0006,.948],[.0008,.958],[.0010,.972],[.0012,.963],[.0014,.978],[.0016,.986],[.0001,.928],[.0003,.918],[.0005,.938],[.0007,.943],[.0009,.927],[.0011,.952],[.0013,.942],[.0015,.969],[.0017,.957],[.0019,.981],[.0002,.908],[.0004,.897],[.0006,.912],[.0008,.922],[.0010,.903],[.0012,.933],[.0014,.913],[.0016,.927],[.0018,.948],[.0021,.962],[.0024,.972],[.0001,.892],[.0003,.884],[.0005,.873],[.0007,.887],[.0009,.862],[.0011,.879],[.0013,.893],[.0015,.872],[.0018,.884],[.0020,.912],[.0022,.932],[.0025,.947],[.0028,.958],[.0031,.982],[.0034,.968],[.0001,.858],[.0003,.848],[.0005,.863],[.0007,.838],[.0009,.852],[.0012,.843],[.0015,.862],[.0019,.868],[.0022,.882],[.0025,.872],[.0028,.892],[.0031,.903],[.0034,.917],[.0037,.942],[.0040,.958],[.0044,.982],[.0001,.812],[.0004,.803],[.0006,.826],[.0010,.818],[.0014,.837],[.0018,.843],[.0021,.826],[.0024,.848],[.0027,.838],[.0031,.852],[.0035,.872],[.0039,.884],[.0043,.902],[.0047,.922],[.0051,.948],[.0057,.972],[.0003,.768],[.0007,.782],[.0011,.762],[.0016,.797],[.0021,.778],[.0026,.802],[.0031,.792],[.0036,.817],[.0041,.838],[.0046,.847],[.0050,.882],[.0053,.903],[.0058,.873],[.0063,.897],[.0067,.838],[.0072,.822],[.0045,.792],[.0051,.812],[.0039,.762],[.0029,.742],[.0018,.727],[.0009,.757]];

const wsdrStoi = [[-0.965,.999],[-0.962,.995],[-0.968,.990],[-0.964,.985],[-0.970,.980],[-0.963,.975],[-0.967,.970],[-0.961,.965],[-0.969,.960],[-0.965,.955],[-0.962,.950],[-0.968,.945],[-0.964,.940],[-0.966,.935],[-0.970,.930],[-0.963,.925],[-0.967,.920],[-0.961,.915],[-0.969,.910],[-0.965,.905],[-0.960,.900],[-0.966,.892],[-0.963,.885],[-0.958,.878],[-0.962,.870],[-0.965,.855],[-0.960,.840],[-0.963,.825],[-0.966,.800],[-0.960,.775],[-0.961,.788],[-0.960,.746],[-0.945,.863],[-0.958,.895],[-0.970,.960],[-0.959,.975],[-0.967,.990],
[-0.959,.997],[-0.971,.993],[-0.957,.987],[-0.972,.977],[-0.958,.968],[-0.971,.952],[-0.959,.944],[-0.972,.937],[-0.960,.927],[-0.971,.917],[-0.958,.908],[-0.970,.897],[-0.961,.882],[-0.968,.866],[-0.959,.848],[-0.967,.832],[-0.962,.813],[-0.969,.943],[-0.956,.958],
[-0.905,.999],[-0.895,.997],[-0.885,.995],[-0.910,.990],[-0.892,.988],[-0.900,.982],[-0.880,.985],[-0.915,.978],[-0.888,.975],[-0.898,.970],[-0.905,.965],[-0.882,.968],[-0.912,.960],[-0.890,.958],[-0.900,.952],[-0.878,.955],[-0.908,.948],[-0.895,.942],[-0.885,.945],[-0.902,.938],[-0.915,.935],[-0.890,.932],[-0.875,.935],[-0.898,.925],[-0.908,.920],[-0.885,.918],[-0.895,.912],[-0.880,.905],[-0.902,.900],[-0.890,.895],[-0.868,.890],[-0.895,.880],[-0.885,.870],[-0.900,.860],[-0.878,.850],[-0.888,.838],[-0.913,.838],[-0.870,.822],[-0.866,.814],[-0.862,.815],[-0.875,.800],[-0.878,.790],[-0.880,.775],[-0.876,.757],[-0.870,.970],[-0.872,.945],
[-0.917,.996],[-0.898,.993],[-0.877,.991],[-0.908,.986],[-0.887,.981],[-0.918,.972],[-0.893,.967],[-0.875,.962],[-0.906,.957],[-0.884,.951],[-0.911,.943],[-0.897,.937],[-0.873,.928],[-0.904,.931],[-0.889,.922],[-0.913,.913],[-0.878,.913],[-0.894,.903],[-0.907,.893],[-0.883,.887],[-0.899,.873],[-0.876,.866],[-0.893,.857],[-0.882,.845],[-0.871,.832],[-0.906,.883],[-0.871,.951],
[-0.745,.999],[-0.720,.998],[-0.700,.997],[-0.680,.998],[-0.660,.999],[-0.760,.995],[-0.735,.992],[-0.712,.990],[-0.690,.993],[-0.750,.985],[-0.725,.982],[-0.705,.985],[-0.680,.980],[-0.760,.975],[-0.740,.972],[-0.715,.970],[-0.695,.975],[-0.672,.968],[-0.750,.962],[-0.728,.958],[-0.705,.960],[-0.685,.955],[-0.660,.952],[-0.765,.950],[-0.742,.945],[-0.718,.942],[-0.698,.948],[-0.675,.940],[-0.755,.935],[-0.732,.930],[-0.710,.928],[-0.690,.932],[-0.665,.925],[-0.770,.920],[-0.745,.918],[-0.722,.915],[-0.700,.912],[-0.680,.918],[-0.760,.905],[-0.735,.902],[-0.712,.898],[-0.690,.905],[-0.668,.895],[-0.785,.888],[-0.772,.892],[-0.748,.888],[-0.725,.882],[-0.705,.885],[-0.680,.878],[-0.762,.872],[-0.738,.870],[-0.715,.865],[-0.692,.872],[-0.643,.857],[-0.730,.855],[-0.705,.850],[-0.740,.842],[-0.718,.838],[-0.692,.832],[-0.728,.825],[-0.702,.820],[-0.735,.812],[-0.715,.805],[-0.688,.810],[-0.672,.800],[-0.740,.798],[-0.658,.780],[-0.646,.777],[-0.630,.770],[-0.682,.712],[-0.732,.743],[-0.757,.757],[-0.724,.759],[-0.666,.759],[-0.700,.790],
[-0.753,.993],[-0.731,.996],[-0.708,.994],[-0.689,.987],[-0.667,.991],[-0.765,.988],[-0.744,.978],[-0.721,.977],[-0.701,.972],[-0.678,.961],[-0.757,.968],[-0.734,.963],[-0.712,.952],[-0.694,.944],[-0.671,.948],[-0.778,.941],[-0.751,.927],[-0.726,.935],[-0.707,.922],[-0.684,.925],[-0.662,.912],[-0.766,.912],[-0.739,.897],[-0.719,.906],[-0.697,.894],[-0.676,.887],[-0.652,.902],[-0.779,.877],[-0.751,.863],[-0.729,.873],[-0.709,.862],[-0.686,.853],[-0.665,.843],[-0.745,.832],[-0.722,.847],[-0.698,.814],[-0.677,.822],[-0.712,.786],[-0.733,.818],[-0.661,.828],
[-0.455,.999],[-0.430,.998],[-0.410,.997],[-0.470,.995],[-0.445,.992],[-0.420,.990],[-0.398,.985],[-0.460,.985],[-0.435,.980],[-0.475,.975],[-0.450,.972],[-0.425,.968],[-0.400,.965],[-0.380,.962],[-0.355,.958],[-0.330,.952],[-0.465,.960],[-0.440,.955],[-0.415,.950],[-0.491,.950],[-0.470,.942],[-0.448,.938],[-0.425,.935],[-0.405,.930],[-0.385,.925],[-0.460,.925],[-0.435,.920],[-0.410,.918],[-0.390,.912],[-0.370,.908],[-0.475,.910],[-0.452,.905],[-0.428,.900],[-0.405,.898],[-0.380,.895],[-0.497,.890],[-0.465,.888],[-0.440,.885],[-0.418,.880],[-0.395,.878],[-0.372,.875],[-0.350,.870],[-0.478,.872],[-0.455,.868],[-0.430,.862],[-0.408,.860],[-0.385,.855],[-0.362,.852],[-0.310,.848],[-0.468,.848],[-0.445,.842],[-0.420,.838],[-0.398,.835],[-0.375,.830],[-0.470,.825],[-0.448,.820],[-0.425,.815],[-0.400,.812],[-0.378,.808],[-0.355,.805],[-0.506,.804],[-0.480,.800],[-0.458,.795],[-0.432,.792],[-0.410,.788],[-0.388,.785],[-0.365,.780],[-0.332,.775],[-0.475,.778],[-0.450,.772],[-0.425,.768],[-0.400,.765],[-0.378,.760],[-0.490,.755],[-0.462,.750],[-0.438,.748],[-0.415,.742],[-0.390,.738],[-0.315,.738],[-0.440,.728],[-0.456,.700],[-0.339,.687],[-0.317,.684],[-0.315,.703],[-0.418,.711],[-0.397,.720],[-0.431,.672],[-0.370,.664],[-0.371,.640],[-0.274,.603],[-0.191,.560],
[-0.466,.993],[-0.439,.988],[-0.416,.981],[-0.391,.976],[-0.452,.981],[-0.428,.974],[-0.408,.957],[-0.369,.946],[-0.456,.947],[-0.432,.943],[-0.396,.943],[-0.346,.936],[-0.481,.933],[-0.416,.926],[-0.447,.917],[-0.392,.921],[-0.463,.903],[-0.417,.907],[-0.371,.891],[-0.487,.881],[-0.451,.877],[-0.408,.872],[-0.366,.863],[-0.476,.858],[-0.436,.852],[-0.394,.847],[-0.341,.842],[-0.489,.837],[-0.459,.831],[-0.411,.826],[-0.366,.821],[-0.327,.817],[-0.471,.812],[-0.437,.807],[-0.392,.799],[-0.344,.794],[-0.463,.786],[-0.421,.781],[-0.376,.773],[-0.486,.766],[-0.436,.761],[-0.391,.754],[-0.352,.748],[-0.476,.741],[-0.427,.736],[-0.402,.728],[-0.361,.721],[-0.466,.716],[-0.417,.692],[-0.383,.698]];

const dflStoi = [[0.265,.995],[0.30,.998],[0.35,.992],[0.40,.999],[0.45,.995],[0.50,.990],[0.55,.998],[0.60,.994],[0.65,.999],[0.70,.992],[0.75,.997],[0.80,.995],[1.00,.999],[1.08,.997],[1.15,.999],[1.22,.996],[1.30,.998],[1.40,.997],[1.55,.998],[1.62,.999],[1.70,.996],[1.82,.999],[1.75,.992],
[0.32,.985],[0.38,.978],[0.42,.988],[0.48,.975],[0.53,.982],[0.58,.970],[0.63,.985],[0.68,.975],[0.73,.980],[0.78,.968],[0.85,.978],[0.92,.972],[0.98,.985],[1.05,.975],[1.12,.982],[1.18,.970],[1.25,.978],[1.32,.965],[1.38,.975],[1.45,.982],[1.52,.968],[1.58,.978],[1.65,.970],[1.72,.962],[1.80,.968],[1.85,.958],[2.02,.954],[1.90,.960],
[0.36,.950],[0.42,.942],[0.48,.955],[0.55,.945],[0.62,.950],[0.70,.938],[0.76,.948],[0.82,.935],[0.90,.945],[0.98,.930],[1.05,.948],[1.12,.938],[1.20,.945],[1.28,.930],[1.35,.942],[1.42,.935],[1.50,.925],[1.58,.940],[1.66,.930],[1.74,.922],[1.82,.935],[1.88,.925],[1.95,.918],[2.16,.917],[0.40,.925],[0.52,.918],[0.60,.928],[0.68,.912],[0.78,.920],[0.88,.910],[0.95,.922],[1.08,.915],[1.18,.910],[1.25,.918],[1.40,.912],[1.55,.905],[1.65,.912],[1.78,.900],[1.85,.910],[1.95,.900],[2.00,.895],[0.45,.905],[0.58,.895],[0.72,.902],[0.85,.895],[1.00,.902],[1.15,.895],[1.32,.900],[1.48,.892],[1.62,.888],[1.72,.885],
[0.37,.877],[0.50,.880],[0.62,.872],[0.75,.882],[0.88,.870],[0.98,.878],[1.10,.865],[1.22,.875],[1.35,.868],[1.45,.880],[1.58,.872],[1.68,.865],[1.80,.875],[1.90,.868],[1.98,.878],[2.05,.870],[2.10,.860],[0.55,.860],[0.68,.852],[0.82,.862],[1.05,.855],[1.28,.852],[1.50,.858],[1.62,.850],[1.75,.855],[1.85,.848],[2.00,.852],[2.15,.845],[2.22,.840],
[0.62,.835],[0.70,.828],[0.92,.840],[1.00,.825],[1.12,.838],[1.25,.830],[1.38,.840],[1.52,.832],[1.65,.825],[1.78,.835],[1.88,.822],[1.95,.830],[2.05,.820],[2.12,.835],[2.20,.825],[2.25,.815],[2.30,.808],[0.92,.810],[1.18,.815],[1.42,.808],[1.70,.812],[1.85,.805],[2.00,.810],[2.15,.800],[2.28,.820],[0.59,.800],[1.10,.800],[1.35,.805],
[0.64,.775],[0.78,.786],[0.78,.746],[1.16,.755],[1.29,.771],[1.56,.743],[1.40,.790],[1.62,.780],[1.72,.765],[1.88,.785],[1.95,.770],[2.05,.790],[2.10,.775],[2.18,.785],[2.22,.768],[2.25,.795],[2.30,.780],[2.35,.760],[2.37,.765],[2.45,.760],[2.20,.733],[2.28,.750],[2.32,.742],[1.94,.720],[1.74,.712],[2.12,.711],[2.12,.703],[2.30,.700],[2.23,.685],[2.28,.687],[1.82,.758],[2.00,.750],
[2.47,.663],[2.40,.671],[2.31,.640],[2.31,.603],[2.24,.558],
[0.28,.991],[0.33,.996],[0.37,.987],[0.43,.993],[0.47,.983],[0.52,.996],[0.57,.986],[0.62,.991],[0.67,.983],[0.72,.996],[0.77,.988],[0.83,.991],[0.88,.997],[0.94,.993],[1.03,.991],[1.11,.993],[1.18,.988],[1.26,.992],[1.34,.991],[1.47,.993],[1.59,.991],[1.67,.987],[1.78,.984],[0.34,.972],[0.41,.963],[0.45,.958],[0.51,.967],[0.56,.953],[0.61,.962],[0.66,.948],[0.71,.958],[0.74,.967],[0.81,.957],[0.87,.962],[0.93,.955],[1.01,.963],[1.08,.958],[1.14,.966],[1.21,.957],[1.29,.955],[1.35,.962],[1.42,.956],[1.49,.948],[1.55,.958],[1.62,.951],[1.69,.943],[1.77,.948],[1.83,.938],[1.93,.943],[0.39,.934],[0.46,.931],[0.53,.934],[0.64,.921],[0.73,.928],[0.80,.908],[0.86,.925],[0.93,.903],[1.03,.922],[1.10,.928],[1.16,.921],[1.22,.904],[1.30,.917],[1.37,.924],[1.45,.908],[1.52,.915],[1.60,.922],[1.68,.902],[1.75,.912],[1.81,.921],[1.91,.908],[1.98,.912],[2.07,.905],[0.48,.892],[0.56,.886],[0.65,.893],[0.79,.875],[0.92,.886],[1.02,.871],[1.13,.883],[1.24,.862],[1.30,.881],[1.41,.868],[1.53,.885],[1.64,.878],[1.71,.872],[1.77,.868],[1.84,.886],[1.93,.877],[2.02,.862],[2.08,.883],[0.72,.846],[0.95,.848],[1.15,.845],[1.38,.852],[1.56,.842],[1.70,.846],[1.81,.838],[1.92,.845],[2.06,.842],[2.18,.853],[2.25,.832],[1.48,.821],[1.61,.813],[1.74,.826],[1.91,.815],[2.08,.808],[2.18,.816],[2.33,.803],[2.21,.797],[2.06,.778],[2.26,.772],[2.14,.758],[2.36,.781]];

const oursStoi = [[.0029,1.0],[.0035,.998],[.0042,.999],[.0050,.996],[.0058,.999],[.0065,.997],[.0072,.999],[.0080,.995],[.0088,.998],[.0095,.996],[.0102,.999],[.0110,.997],[.0118,.998],[.0125,.996],[.0132,.999],[.0140,.997],[.0045,.988],[.0055,.982],[.0062,.990],[.0070,.978],[.0078,.986],[.0085,.975],[.0092,.988],[.0100,.980],[.0108,.990],[.0115,.975],[.0122,.985],[.0130,.978],[.0138,.988],[.0145,.975],[.0152,.985],[.0160,.970],[.0168,.980],[.0175,.972],[.0040,.980],[.0068,.965],[.0082,.962],[.0098,.968],[.0112,.962],[.0128,.965],[.0142,.960],[.0158,.958],[.0172,.955],[.0192,.957],
[.0054,.922],[.0066,.900],[.0080,.886],[.0075,.945],[.0088,.950],[.0095,.938],[.0105,.948],[.0112,.932],[.0120,.945],[.0128,.930],[.0135,.942],[.0142,.925],[.0150,.938],[.0158,.920],[.0165,.935],[.0172,.915],[.0180,.928],[.0188,.912],[.0202,.918],[.0100,.920],[.0110,.910],[.0118,.915],[.0126,.905],[.0134,.912],[.0145,.900],[.0155,.908],[.0162,.895],[.0170,.905],[.0178,.892],[.0185,.900],[.0195,.888],[.0205,.895],[.0090,.905],[.0098,.895],[.0060,.905],
[.0081,.858],[.0096,.858],[.0102,.872],[.0110,.880],[.0118,.868],[.0125,.885],[.0132,.862],[.0140,.875],[.0148,.885],[.0155,.865],[.0162,.878],[.0170,.858],[.0178,.872],[.0185,.862],[.0192,.875],[.0198,.855],[.0205,.868],[.0212,.852],[.0218,.862],[.0140,.850],[.0158,.848],[.0175,.845],[.0192,.842],[.0210,.840],[.0225,.835],[.0093,.832],[.0104,.868],
[.0114,.800],[.0120,.838],[.0148,.830],[.0165,.822],[.0180,.830],[.0195,.818],[.0205,.825],[.0215,.812],[.0222,.822],[.0230,.808],[.0200,.802],[.0185,.808],[.0170,.800],[.0150,.812],[.0218,.798],[.0235,.815],
[.0109,.778],[.0121,.771],[.0144,.746],[.0168,.740],[.0160,.790],[.0175,.780],[.0190,.785],[.0205,.775],[.0215,.790],[.0225,.770],[.0232,.780],[.0240,.765],[.0244,.741],[.0230,.750],[.0213,.760],[.0182,.720],[.0191,.703],[.0227,.711],[.0213,.687],[.0208,.688],[.0237,.700],
[.0239,.663],[.0225,.640],[.0218,.603],[.0134,.560],
[.0032,.996],[.0039,.993],[.0047,.997],[.0053,.991],[.0061,.995],[.0068,.991],[.0076,.994],[.0084,.991],[.0091,.993],[.0099,.991],[.0106,.994],[.0114,.991],[.0121,.993],[.0129,.991],[.0137,.993],[.0048,.976],[.0057,.971],[.0064,.983],[.0073,.969],[.0081,.981],[.0089,.967],[.0096,.982],[.0104,.972],[.0113,.984],[.0119,.967],[.0126,.979],[.0135,.971],[.0142,.983],[.0149,.966],[.0156,.976],[.0163,.981],[.0171,.963],[.0179,.967],[.0071,.953],[.0078,.942],[.0085,.957],[.0092,.946],[.0101,.956],[.0108,.939],[.0116,.952],[.0123,.937],[.0131,.948],[.0138,.933],[.0146,.946],[.0153,.928],[.0161,.943],[.0169,.925],[.0176,.938],[.0184,.921],[.0196,.931],[.0084,.922],[.0093,.915],[.0103,.928],[.0114,.921],[.0122,.926],[.0131,.918],[.0139,.905],[.0148,.918],[.0152,.896],[.0159,.911],[.0167,.888],[.0174,.898],[.0182,.884],[.0191,.894],[.0199,.906],[.0208,.884],[.0107,.895],[.0116,.886],[.0129,.893],[.0137,.882],[.0144,.868],[.0152,.876],[.0159,.858],[.0167,.868],[.0174,.852],[.0182,.876],[.0189,.853],[.0196,.866],[.0203,.848],[.0211,.871],[.0217,.845],[.0224,.852],[.0133,.842],[.0146,.838],[.0162,.835],[.0173,.827],[.0187,.822],[.0198,.833],[.0208,.815],[.0218,.828],[.0228,.818],[.0193,.803],[.0211,.798],[.0222,.791],[.0236,.792],[.0199,.782],[.0219,.776],[.0229,.757],[.0186,.768],[.0241,.752]];

// ---------- labels & ticks ----------
const metricNames = ["MAE", "MSE", "wSDR", "DFL", "Ours"];
const pesqCorr = ["-0.47", "-0.41", "-0.54", "-0.67", "-0.82"];
const stoiCorr = ["-0.49", "-0.47", "-0.51", "-0.64", "-0.75"];
const maeTicks = [0, 0.05], mseTicks = [0, 0.005, 0.010], wsdrTicks = [-1.0, -0.5], dflTicks = [1, 2], oursTicks = [0.01, 0.02];
const pesqTicks = [1, 2, 3, 4], stoiTicks = [0.6, 0.7, 0.8, 0.9, 1.0];

// ---------- layout / style ----------
const FONT = "'Liberation Serif','Times New Roman',Times,serif";
const frameLefts = [57.7, 276.9, 496.9, 716.9, 936.9];
const frameTops = [2.7, 245];
const FW = 182.4, FH = 200.7, M = 40;
const cols = [
  {ticks: maeTicks, domain: [-0.0003, 0.0880], fmt: d => d.toFixed(2)},
  {ticks: mseTicks, domain: [-0.00047, 0.01023], fmt: d => d.toFixed(3)},
  {ticks: wsdrTicks, domain: [-1.011, -0.152], fmt: d => d.toFixed(1)},
  {ticks: dflTicks, domain: [0.159, 2.584], fmt: d => String(d)},
  {ticks: oursTicks, domain: [0.0019, 0.0255], fmt: d => d.toFixed(2)}
];
const rows = [
  {name: "PESQ", ticks: pesqTicks, domain: [0.875, 4.457], fmt: d => String(d), data: [maePesq, msePesq, wsdrPesq, dflPesq, oursPesq], corr: pesqCorr, labelDx: -28},
  {name: "STOI", ticks: stoiTicks, domain: [0.5364, 1.020], fmt: d => d.toFixed(1), data: [maeStoi, mseStoi, wsdrStoi, dflStoi, oursStoi], corr: stoiCorr, labelDx: -41}
];

const chart = document.getElementById("chart");
rows.forEach((row, r) => {
  cols.forEach((col, c) => {
    const marks = [
      Plot.frame({fill: "#eaeaf2", stroke: "none"}),
      Plot.gridX(col.ticks, {stroke: "white", strokeOpacity: 1, strokeWidth: 1.3}),
      Plot.gridY(row.ticks, {stroke: "white", strokeOpacity: 1, strokeWidth: 1.3}),
      Plot.dot(row.data[c], {x: d => d[0], y: d => d[1], r: 1.8, fill: "#4c72b0", stroke: "white", strokeWidth: 0.5}),
      Plot.axisX(col.ticks, {tickSize: 0, tickPadding: 7, tickFormat: col.fmt, fontSize: 17, fontFamily: FONT, fontVariant: "normal", label: null}),
      Plot.text([`${metricNames[c]} (${row.corr[c]})`], {text: d => d, frameAnchor: "bottom", lineAnchor: "middle", dy: 32, fontSize: 19.5, fontFamily: FONT})
    ];
    if (c === 0) {
      marks.push(Plot.axisY(row.ticks, {tickSize: 0, tickPadding: 6, tickFormat: row.fmt, fontSize: 17, fontFamily: FONT, fontVariant: "normal", label: null}));
      marks.push(Plot.text([row.name], {text: d => d, frameAnchor: "left", lineAnchor: "middle", textAnchor: "middle", rotate: -90, dx: row.labelDx, fontSize: 19.5, fontFamily: FONT}));
    }
    const svg = Plot.plot({
      width: FW + 2 * M, height: FH + 2 * M,
      marginLeft: M, marginRight: M, marginTop: M, marginBottom: M,
      x: {domain: col.domain, axis: null},
      y: {domain: row.domain, axis: null},
      style: {fontFamily: FONT, color: "#262626", background: "transparent", overflow: "visible"},
      marks
    });
    svg.style.position = "absolute";
    svg.style.left = (frameLefts[c] - M) + "px";
    svg.style.top = (frameTops[r] - M) + "px";
    svg.style.background = "transparent";
    svg.style.overflow = "visible";
    svg.style.maxWidth = "none";
    chart.appendChild(svg);
  });
});
</script></body></html>
